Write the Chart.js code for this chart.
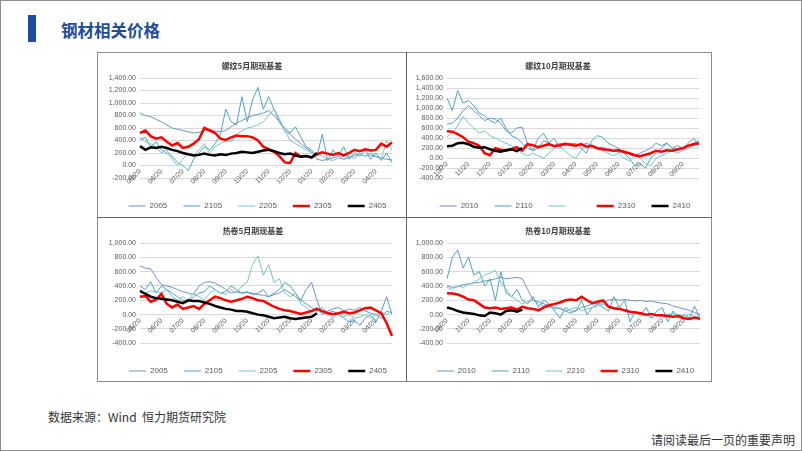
<!DOCTYPE html>
<html>
<head>
<meta charset="utf-8">
<title>钢材相关价格</title>
<script src="https://cdn.jsdelivr.net/npm/chart.js@4.4.1/dist/chart.umd.min.js"></script>
<style>
  html, body { margin: 0; padding: 0; background: #fff; }
  #slide { position: relative; width: 802px; height: 451px; overflow: hidden; background: #fff; font-family: "Noto Sans CJK SC", sans-serif; }
  .abs { position: absolute; }
  #edge { left: 0; top: 0; width: 802px; height: 451px; box-sizing: border-box; border: 1px solid #8c8c8c; }
  #bar { left: 28px; top: 15px; width: 8px; height: 27px; background: #1b4c9f; }
  #heading { left: 61px; top: 20px; font-size: 16.5px; line-height: 21px; font-weight: bold; color: #1f4c99; white-space: nowrap; }
  #frame { left: 97px; top: 52px; width: 615px; height: 330px; box-sizing: border-box; border: 1px solid #8c8c8c; }
  #vline { left: 406px; top: 52px; width: 1px; height: 330px; background: #666; }
  #hline { left: 97px; top: 217px; width: 615px; height: 1px; background: #666; }
  .ptitle { width: 200px; text-align: center; font-size: 8px; line-height: 10px; font-weight: bold; color: #404040; white-space: nowrap; }
  canvas { position: absolute; }
  #source { left: 48px; top: 409px; font-size: 12px; line-height: 16px; color: #333; white-space: pre; }
  #notice { right: 7px; top: 432px; font-size: 12px; line-height: 16px; color: #333; white-space: nowrap; }
</style>
</head>
<body>
<div id="slide">
  <div id="bar" class="abs"></div>
  <div id="heading" class="abs">钢材相关价格</div>

  <canvas id="c1" width="319" height="167" style="left:98px;top:53px"></canvas>
  <canvas id="c2" width="316" height="167" style="left:407px;top:53px"></canvas>
  <canvas id="c3" width="320" height="167" style="left:98px;top:218px"></canvas>
  <canvas id="c4" width="317" height="167" style="left:407px;top:218px"></canvas>

  <div id="frame" class="abs"></div>
  <div id="vline" class="abs"></div>
  <div id="hline" class="abs"></div>

  <div class="abs ptitle" style="left:152px;top:61px">螺纹5月期现基差</div>
  <div class="abs ptitle" style="left:458px;top:61px">螺纹10月期现基差</div>
  <div class="abs ptitle" style="left:153px;top:226px">热卷5月期现基差</div>
  <div class="abs ptitle" style="left:458px;top:226px">热卷10月期现基差</div>

  <div id="source" class="abs">数据来源：Wind  恒力期货研究院</div>
  <div id="notice" class="abs">请阅读最后一页的重要声明</div>
  <div id="edge" class="abs"></div>
</div>

<script>
// month tick labels, one point per week (4 per month)
const mayMonths = ['05/20', '06/20', '07/20', '08/20', '09/20', '10/20', '11/20', '12/20', '01/20', '02/20', '03/20', '04/20'];
const octMonths = ['10/20', '11/20', '12/20', '01/20', '02/20', '03/20', '04/20', '05/20', '06/20', '07/20', '08/20', '09/20'];
const weeksPerMonth = 4;
const pointCount = 48;

const rebarMayNames = ['2005', '2105', '2205', '2305', '2405'];
const rebarOctNames = ['2010', '2110', '     ', '2310', '2410'];
const coilMayNames = ['2005', '2105', '2205', '2305', '2405'];
const coilOctNames = ['2010', '2110', '2210', '2310', '2410'];

// 螺纹5月期现基差
const rebarMay2005 = [840, 800, 780, 740, 700, 650, 600, 580, 560, 540, 520, 530, 560, 580, 550, 540, 560, 620, 680, 720, 760, 800, 820, 840, 880, 800, 700, 560, 500, 420, 350, 280, 220, 100, 80, 100, 120, 150, 100, 130, 160, 180, 150, 170, 140, 120, 100, 90];
const rebarMay2105 = [420, 450, 300, 380, 250, 200, 150, 50, 0, -80, 100, 200, 300, 250, 350, 500, 900, 700, 650, 1100, 700, 1050, 1250, 900, 1100, 900, 700, 600, 520, 620, 450, 300, 250, 150, 500, 80, 250, 150, 300, 100, 200, 150, 250, 100, 200, 80, 200, 50];
const rebarMay2205 = [450, 380, 350, 300, 200, 250, 100, 0, 100, 200, 150, 250, 350, 200, 300, 350, 400, 380, 500, 550, 600, 620, 650, 700, 800, 900, 750, 550, 400, 350, 300, 250, 200, 180, 150, 100, 80, 120, 100, 150, 120, 180, 150, 200, 150, 100, 400, 250];
const rebarMay2305 = [520, 560, 470, 430, 450, 380, 320, 360, 280, 300, 350, 420, 600, 560, 520, 430, 410, 450, 480, 470, 470, 450, 400, 300, 260, 220, 150, 50, 40, 200, 140, 150, 130, 180, 210, 190, 170, 200, 160, 200, 250, 230, 260, 240, 250, 350, 300, 370];
const rebarMay2405 = [310, 250, 290, 280, 300, 280, 250, 230, 200, 180, 160, 170, 190, 170, 160, 180, 170, 190, 200, 220, 210, 200, 220, 240, 250, 230, 200, 180, 190, 160, 140, 150, 130, 200];

// 螺纹10月期现基差
const rebarOct2010 = [680, 700, 800, 950, 1050, 950, 850, 750, 800, 780, 700, 550, 500, 600, 620, 300, 150, 200, 350, 300, 250, 300, 250, 300, 280, 250, 300, 250, 200, 220, 180, 150, 120, 100, 80, 50, 100, 150, 200, 300, 250, 300, 200, 150, 200, 250, 300, 350];
const rebarOct2110 = [1200, 950, 1350, 1100, 1150, 1050, 900, 850, 750, 700, 800, 600, 450, 400, 300, 200, 150, 400, 500, 300, 400, 200, 300, 250, 300, 200, 100, 350, 450, 420, 300, 250, 200, 100, 0, -150, -100, -200, 0, 100, 200, 300, 200, 250, 200, 300, 400, 250];
const rebarOct2210 = [430, 500, 650, 830, 700, 600, 500, 550, 450, 400, 350, 300, 250, 200, 100, 50, 100, 50, 0, 100, 200, 250, 150, 50, 0, 150, 300, 250, 200, 150, 100, 50, 100, 0, -50, 50, 0, -100, -150, 0, 50, 100, 150, 100, 150, 200, 250, 300];
const rebarOct2310 = [540, 530, 480, 420, 330, 300, 250, 100, 60, 200, 170, 150, 180, 220, 150, 280, 260, 220, 250, 280, 240, 260, 290, 270, 250, 280, 230, 250, 200, 180, 170, 150, 160, 130, 100, 60, 40, 70, 100, 150, 130, 160, 150, 180, 200, 250, 280, 300];
const rebarOct2410 = [240, 250, 300, 310, 280, 230, 210, 220, 180, 150, 130, 160, 180, 140, 200];

// 热卷5月期现基差
const coilMay2005 = [680, 650, 640, 520, 420, 400, 380, 350, 320, 300, 280, 400, 450, 460, 440, 400, 350, 300, 320, 300, 310, 300, 280, 270, 250, 280, 300, 350, 300, 250, 200, 350, 450, 200, 0, 50, 80, 100, 50, 80, 60, 100, 50, 20, 0, -50, 50, 20];
const coilMay2105 = [400, 350, 460, 300, 400, 350, 300, 250, 200, 180, 250, 300, 320, 400, 350, 300, 320, 400, 350, 300, 320, 280, 300, 350, 250, 300, 350, 450, 400, 300, 200, 150, 100, 50, 100, 20, 50, 0, -50, -100, -80, -150, -50, 0, -100, 50, 250, 0];
const coilMay2205 = [350, 300, 330, 320, 300, 350, 250, 200, 250, 200, 300, 250, 200, 300, 350, 300, 280, 350, 300, 400, 450, 700, 820, 550, 700, 450, 500, 300, 250, 300, 150, 100, 50, 100, 0, 50, -50, 30, -30, 0, -50, -30, 0, -50, 0, 30, 0, 50];
const coilMay2305 = [250, 260, 180, 210, 290, 150, 100, 140, 80, 100, 120, 80, 150, 200, 250, 230, 200, 180, 200, 220, 250, 230, 200, 190, 150, 110, 80, 60, 50, 30, 10, 30, 50, 80, 50, 20, 5, 20, 40, 20, 30, 60, 90, 100, 60, 20, -120, -300];
const coilMay2405 = [330, 290, 250, 230, 220, 210, 200, 180, 160, 200, 190, 190, 170, 150, 120, 100, 80, 70, 50, 50, 40, 20, 0, -10, -30, -50, -40, -30, -50, -60, -50, -40, -30, 20];

// 热卷10月期现基差
const coilOct2010 = [400, 380, 390, 420, 430, 440, 450, 470, 480, 500, 520, 500, 510, 520, 500, 350, 200, 180, 150, 120, 100, 80, 50, 20, 60, 100, 120, 150, 150, 170, 200, 220, 200, 210, 200, 190, 200, 180, 190, 170, 160, 150, 120, 100, 80, 60, 30, 0];
const coilOct2110 = [500, 800, 900, 650, 800, 550, 600, 400, 500, 200, 600, 300, 250, 350, 200, 150, 250, 100, 200, 150, 50, -50, 100, 50, 50, 200, 0, 100, 150, 100, 50, 250, 100, 200, -100, 50, 0, 100, -50, 50, 100, -100, 50, -50, 0, -50, 120, -50];
const coilOct2210 = [380, 350, 400, 380, 420, 450, 500, 550, 580, 620, 450, 350, 250, 200, 150, 180, 200, 150, 120, 100, 80, 100, 50, 80, 100, 50, 80, 100, 120, 150, 100, 80, 120, 50, 0, 30, -20, 0, -50, 0, -30, 0, 20, 0, -20, 0, -30, -20];
const coilOct2310 = [300, 295, 280, 250, 210, 200, 150, 100, 90, 100, 80, 90, 100, 70, 110, 90, 80, 60, 100, 130, 150, 170, 200, 210, 200, 250, 200, 160, 180, 200, 110, 90, 80, 60, 40, 30, 20, 0, 10, -10, -10, -20, -30, -20, -50, -60, -40, -60];
const coilOct2410 = [100, 80, 50, 30, 20, 10, -10, -20, 30, 20, 0, 50, 60, 40, 70];

const lineColors = ['#6f93c3', '#4ea3c4', '#74c3cd', '#ff0000', '#000000'];
const lineWidths = [1, 1, 1, 2.5, 2.5];
const tickFont = '"Liberation Sans", Arial, sans-serif';

const panels = [
    { id: 'c1', months: mayMonths, names: rebarMayNames, min: -328, max: 1400, axisWidth: 42, rightWidth: 25,
      series: [rebarMay2005, rebarMay2105, rebarMay2205, rebarMay2305, rebarMay2405] },
    { id: 'c2', months: octMonths, names: rebarOctNames, min: -554, max: 1600, axisWidth: 40, rightWidth: 24,
      series: [rebarOct2010, rebarOct2110, rebarOct2210, rebarOct2310, rebarOct2410] },
    { id: 'c3', months: mayMonths, names: coilMayNames, min: -508, max: 1000, axisWidth: 42, rightWidth: 26,
      series: [coilMay2005, coilMay2105, coilMay2205, coilMay2305, coilMay2405] },
    { id: 'c4', months: octMonths, names: coilOctNames, min: -508, max: 1000, axisWidth: 40, rightWidth: 24,
      series: [coilOct2010, coilOct2110, coilOct2210, coilOct2310, coilOct2410] }
];

const fmt = v => v.toLocaleString('en-US', { minimumFractionDigits: 2, maximumFractionDigits: 2 });

const makeChart = (p) => {
    const labels = [];
    for (let i = 0; i < pointCount; i++) {
        labels.push(i % weeksPerMonth === 0 ? p.months[i / weeksPerMonth] : '');
    }
    const datasets = p.series.map((values, k) => ({
        label: p.names[k],
        data: values,
        borderColor: lineColors[k],
        backgroundColor: lineColors[k],
        borderWidth: lineWidths[k],
        pointRadius: 0,
        pointHoverRadius: 0,
        pointStyle: 'line',
        tension: 0,
        fill: false,
        order: 5 - k
    }));

    new Chart(document.getElementById(p.id), {
        type: 'line',
        data: { labels: labels, datasets: datasets },
        options: {
            responsive: false,
            animation: false,
            events: [],
            layout: { padding: { top: 25, left: 0, right: 0, bottom: 0 } },
            plugins: {
                title: { display: false },
                tooltip: { enabled: false },
                legend: {
                    position: 'bottom',
                    align: 'center',
                    labels: {
                        usePointStyle: true,
                        pointStyle: 'line',
                        pointStyleWidth: 17,
                        padding: 16,
                        color: '#595959',
                        font: { family: tickFont, size: 8 },
                        sort: (a, b) => a.datasetIndex - b.datasetIndex
                    }
                }
            },
            scales: {
                x: {
                    position: { y: 0 },
                    grid: { display: false, drawTicks: false },
                    border: { display: false },
                    ticks: {
                        autoSkip: false,
                        minRotation: 45,
                        maxRotation: 45,
                        padding: 2,
                        color: '#595959',
                        font: { family: tickFont, size: 7 }
                    }
                },
                y: {
                    min: p.min,
                    max: p.max,
                    grid: { color: '#d9d9d9', drawTicks: false },
                    border: { display: false },
                    ticks: {
                        stepSize: 200,
                        includeBounds: false,
                        autoSkip: false,
                        padding: 4,
                        color: '#595959',
                        font: { family: tickFont, size: 7 },
                        callback: fmt
                    },
                    afterFit: (scale) => { scale.width = p.axisWidth; }
                },
                yR: {
                    position: 'right',
                    grid: { display: false },
                    border: { display: false },
                    ticks: { display: false },
                    afterFit: (scale) => { scale.width = p.rightWidth; }
                }
            }
        }
    });
};

panels.forEach(makeChart);
</script>
</body>
</html>
